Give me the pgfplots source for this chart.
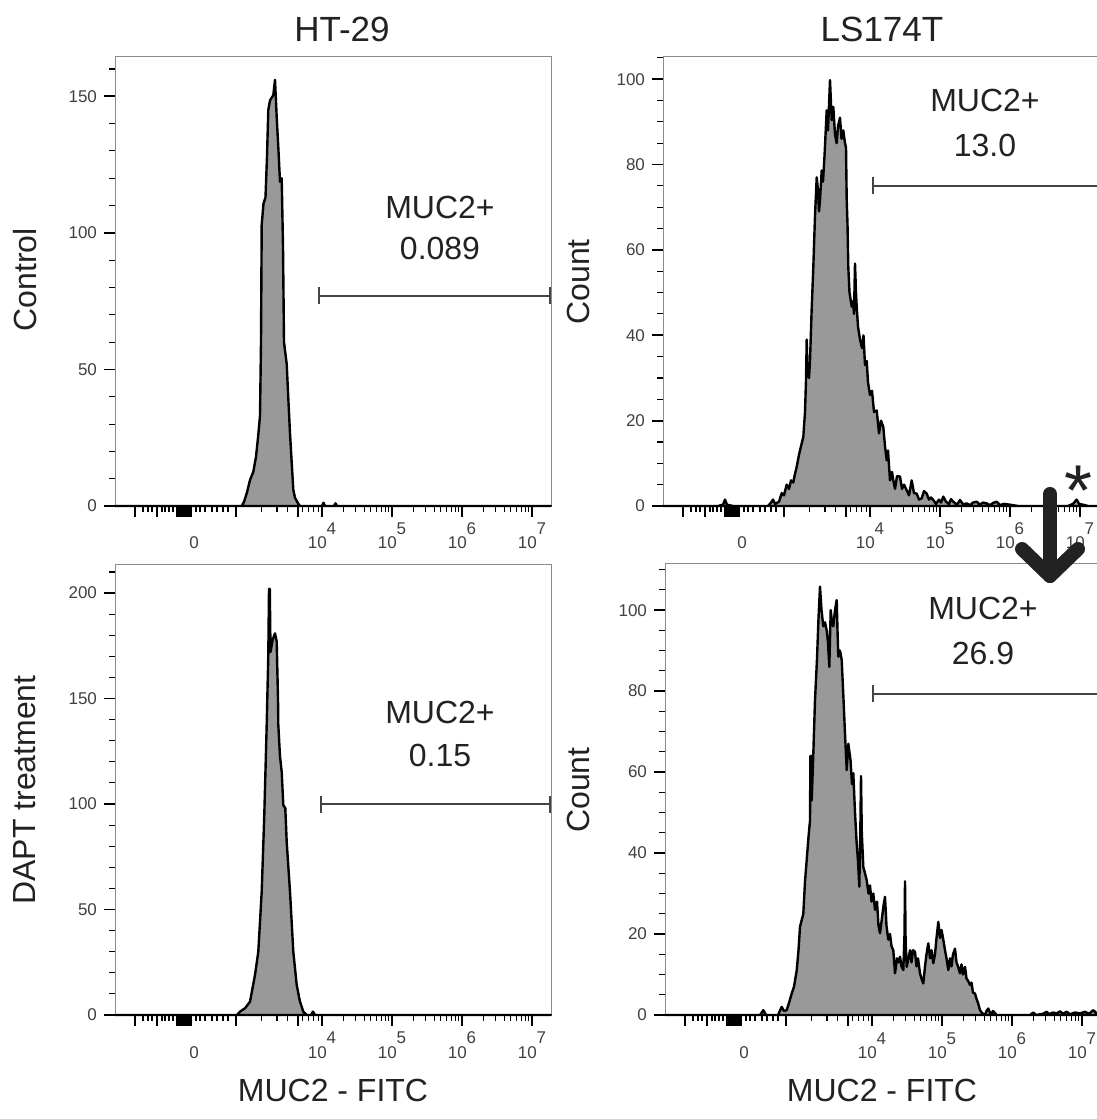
\documentclass[border=0pt]{standalone}
\usepackage{fontspec}
\setmainfont{Liberation Sans}
\usepackage{pgfplots}
\pgfplotsset{compat=1.18}
\usetikzlibrary{arrows.meta}
\definecolor{histfill}{HTML}{999999}
\definecolor{gatecol}{HTML}{444444}
\definecolor{txt}{HTML}{222222}
\newcommand{\decl}[1]{10\raisebox{7pt}{#1}}
\tikzset{
  gate/.style={draw=gatecol, line width=1.1pt, {Bar[width=8.5pt]}-{Bar[width=8.5pt]}},
  big/.style={font=\fontsize{16}{19}\selectfont, text=txt},
  ttl/.style={font=\fontsize{17.5}{20}\selectfont, text=txt},
}
\pgfplotsset{
  flow/.style={
    scale only axis, width=218pt, xmin=0, xmax=436, ymin=0,
    clip=false,
    axis line style={black!45, line width=0.5pt},
    tick align=outside, xtick pos=bottom, ytick pos=left,
    major tick length=5.5pt, minor tick length=2.8pt,
    every tick/.style={black, line width=0.9pt},
    minor tick style={line width=0.55pt},
    xtick={20,42,62,64,66,68,70,72,74,76,121,183,207,277,347,417},
    xticklabels={,,,,,,,,,,,,\decl{4},\decl{5},\decl{6},\decl{7}},
    minor xtick={28,33,37,47,50,54,58,81,85,90,97,102,108,113,
      146.9,162,172.8,187.9,193.7,198.7,203.1,
      228.1,240.4,249.1,255.9,261.5,266.2,270.2,273.8,
      298.1,310.4,319.1,325.9,331.5,336.2,340.2,343.8,
      368.1,380.4,389.1,395.9,401.5,406.2,410.2,413.8},
    extra x ticks={79}, extra x tick labels={0},
    extra x tick style={major tick style={draw=none}},
    /pgf/number format/assume math mode=true,
    tick label style={font=\fontsize{8.5}{9}\selectfont, text=black!75},
    xticklabel style={anchor=base, yshift=-16pt},
  },
  hist/.style={draw=black, line width=1.2pt, fill=histfill, line join=round},
}
\begin{document}
\begin{tikzpicture}
\path[use as bounding box] (0,0) rectangle (548.5pt,559.5pt);

% ---------- top-left: HT-29 control
\begin{axis}[flow, at={(57.5pt,306.5pt)}, anchor=south west, height=224.5pt,
  ymax=164.4, ytick={0,50,100,150},
  minor ytick={10,20,30,40,60,70,80,90,110,120,130,140,160}]
\addplot[hist] coordinates {(0,0) (126.7,0) (129,1.5) (132,5) (135,9.5) (138.3,12.5) (141,18) (143,25) (145,33) (146,60) (146.7,103) (148.5,110.7) (150.5,113) (152,128) (153.3,145) (155,148.5) (158.3,150.4) (160,156) (161.7,142.4) (163.5,130) (165,118.7) (166.7,120) (168,95) (169,60) (171.7,52) (173.5,38) (175,26.6) (177,14) (178.3,6) (180,3) (183,1) (185,0) (207,0) (208.5,1.2) (210,0) (219,0) (220.5,1) (222,0) (436,0)} \closedcycle;
\draw[gate] (axis cs:203,77) -- (axis cs:436,77);
\node[big] at (axis cs:325,109.4) {MUC2+};
\node[big] at (axis cs:325,94.4) {0.089};
\end{axis}

% ---------- top-right: LS174T control
\begin{axis}[flow, at={(331.5pt,306.5pt)}, anchor=south west, height=224.5pt,
  ymax=105.2, ytick={0,20,40,60,80,100},
  minor ytick={5,10,15,25,30,35,45,50,55,65,70,75,85,90,95,105}]
\addplot[hist] coordinates {(0,0) (55,0) (60,0.3) (62,1.5) (64,0.3) (70,0) (105,0) (108,0.8) (110,1.5) (112,0.5) (116,1) (118.7,3) (121,2.5) (123.7,5) (126,4) (128,6) (130.3,5.5) (131.5,7) (133.7,9.2) (136,12) (138,14) (140.3,16.2) (142,22) (143,29.5) (143.7,39) (144.5,31) (146,30) (147,34) (148.5,45) (150.3,56) (152,68) (153.7,77) (155,74) (156,69) (157,71.7) (158.7,78.6) (160,76) (161.5,82) (163.7,92.7) (165,88) (167,99.8) (168.7,90.4) (170.3,93.5) (172,87) (173.7,85) (175,89) (177,91) (178.5,86) (180.3,88) (182,85) (183,84) (183.7,71.7) (184.5,66) (185.3,56) (186.5,50) (188.7,46.7) (190,48) (191,45) (192,56.8) (193,50) (193.7,46.7) (195,42) (197,39) (199,37) (200.5,40) (202,33) (203.7,34) (205,29) (207,26) (209,27) (211,22) (213.7,22.4) (216,17) (218,20) (220.3,18.5) (222,14) (223.7,10.7) (225,13) (227,6) (229,8) (230.3,6) (232,4) (234,7) (237,6.9) (239,4) (241,5) (243.7,3.7) (246,2.5) (248.7,6) (251,3) (253.7,2.9) (256,1.5) (258.7,1.8) (261,3.5) (263.7,2.9) (266,1.5) (268,2) (270.3,1.4) (273,0.5) (276,1.5) (278,0.8) (280.3,2.2) (283,1) (286,0.5) (288,1.6) (290.3,1) (294,0.3) (297,1.4) (300,0.4) (303.7,0.6) (307,0.2) (310,0.8) (313.7,1) (317,0.3) (320,0.8) (323.7,0.6) (327,0.2) (330,0.7) (333.7,1) (337,0.2) (341,0.5) (347,0.3) (355,0) (370,0) (405,0) (410,0.5) (413.7,1.5) (416,0.5) (420,0.3) (425,0) (436,0)} \closedcycle;
\draw[gate] (axis cs:209,75) -- (axis cs:436,75);
\node[big] at (axis cs:322,95) {MUC2+};
\node[big] at (axis cs:322,84.5) {13.0};
\end{axis}

% ---------- bottom-left: HT-29 DAPT
\begin{axis}[flow, at={(57.5pt,52pt)}, anchor=south west, height=225pt,
  ymax=213.3, ytick={0,50,100,150,200},
  minor ytick={10,20,30,40,60,70,80,90,110,120,130,140,160,170,180,190,210}]
\addplot[hist] coordinates {(0,0) (122,0) (125,1.6) (130,3.2) (135,6.3) (140,19) (143.3,30) (146.7,58.5) (149.3,95) (151.7,137.5) (153.3,170.6) (154,202) (154.8,202) (155.5,172) (157.7,178) (160,180.9) (161.7,177) (163,150) (163.3,137.5) (165,122.6) (166.7,115.3) (168.3,99.5) (170.3,98) (171.7,82) (175,58.5) (178.3,30) (181.7,14.2) (185,6.3) (188.3,1.6) (191.7,0) (196,0) (198,1.6) (200,0) (436,0)} \closedcycle;
\draw[gate] (axis cs:205,100) -- (axis cs:436,100);
\node[big] at (axis cs:325,143.6) {MUC2+};
\node[big] at (axis cs:325,123) {0.15};
\end{axis}

% ---------- bottom-right: LS174T DAPT
\begin{axis}[flow, at={(332.5pt,52pt)}, anchor=south west, height=225.5pt,
  ymax=111.4, ytick={0,20,40,60,80,100},
  minor ytick={5,10,15,25,30,35,45,50,55,65,70,75,85,90,95,105,110}]
\addplot[hist] coordinates {(0,0) (95,0) (98.3,1.2) (101,0) (113,0) (116.7,2) (119,1) (121.7,1.2) (124,3) (126.7,5.3) (129,7) (131.7,11) (133.5,16) (135,21.8) (138.3,25) (140,33) (141.7,38.3) (143.5,44) (145,48) (145.4,64) (146.2,64) (146.7,53) (148.5,66) (150,77.8) (152,88) (153.5,98) (155,105.8) (156.5,100) (158.3,96) (160,97) (161.7,95) (163,92) (164.3,86) (165.7,100) (167,97) (168.3,96) (170,100) (171.7,102.5) (172.5,95) (173.3,88.5) (175,90) (176.7,87.7) (178.5,78) (180,69.5) (181.7,60.5) (183.3,67) (185.5,63) (187,57) (188.3,59.7) (190,50) (191.7,42.3) (193,38) (194.3,31.7) (195.3,45) (196,59) (196.8,45) (198.3,36.6) (200,35) (201.7,33.3) (203.5,30) (205,32) (206.5,28) (208.3,30) (210,26) (212,28) (213.5,22) (215,20.2) (217,24) (218.5,27) (220,29.2) (221.5,22) (223.3,18.6) (225,20) (226.5,17) (228.3,16) (230,10.3) (232,14) (233.5,13) (235,14.4) (236.5,12) (238.3,11.1) (239.5,20) (240,33) (240.6,18) (241.7,11.9) (243.5,14) (245,16) (246.5,13) (248,16) (250,15.6) (251.5,12) (253,14) (255,10.3) (256.5,9) (258.3,7.8) (260,12) (261.5,15) (263.3,17.7) (265,14) (266.5,16) (268.3,12.8) (270,15) (271.5,19) (273.3,23) (275,19) (276.5,21) (278.3,18.6) (280,16) (281.5,14) (283.3,11.1) (285,14) (286.5,12) (288,15) (290,16.4) (291.5,13) (293,12) (295,10.3) (296.5,12.5) (298,10) (300,11.9) (301.5,9) (303,8.5) (305,7.4) (306.5,8) (308,5.5) (310,5.3) (311.5,4) (313,3) (315,1.2) (317,0.5) (320,0) (321.5,1) (323.3,1.6) (325,0.5) (326.7,0.4) (328,1) (331.7,0) (365,0) (368.3,0.6) (371,0) (378,0.3) (381.7,0.8) (384,0.2) (388,0.6) (391.7,0.4) (395,0.9) (398,0.3) (401.7,0.8) (405,0.2) (410,0.6) (415,0.4) (420,0.8) (424,0.3) (428.3,1.2) (431,0.5) (436,0.8)} \closedcycle;
\draw[gate] (axis cs:207,79.3) -- (axis cs:436,79.3);
\node[big] at (axis cs:318,100.5) {MUC2+};
\node[big] at (axis cs:318,89.4) {26.9};
\end{axis}

% ---------- titles and labels
\node[ttl] at (171pt,545pt) {HT-29};
\node[ttl] at (441pt,545pt) {LS174T};
\node[big, rotate=90] at (12.5pt,419.5pt) {Control};
\node[big, rotate=90] at (12.5pt,164.5pt) {DAPT treatment};
\node[big, rotate=90] at (289pt,418.5pt) {Count};
\node[big, rotate=90] at (289pt,164.5pt) {Count};
\node[big] at (166.5pt,14.5pt) {MUC2 - FITC};
\node[big] at (441pt,14.5pt) {MUC2 - FITC};

% ---------- significance arrow
\draw[line width=7pt, color=txt, line cap=round, line join=round] (525pt,312.5pt) -- (525pt,271.5pt);
\draw[line width=7pt, color=txt, line cap=round, line join=round] (511pt,285pt) -- (525pt,271.5pt) -- (539pt,285pt);
\node[anchor=base, inner sep=0pt, font=\fontsize{36}{36}\selectfont, text=txt] at (539pt,316pt) {\raisebox{-0.39em}[0.31em][0pt]{*}};
\end{tikzpicture}
\end{document}
